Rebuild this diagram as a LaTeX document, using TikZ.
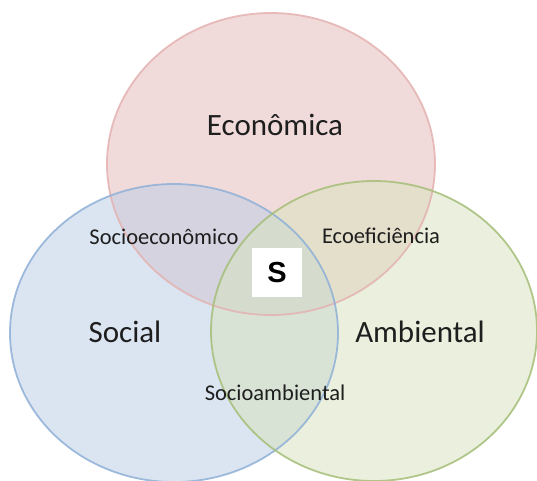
\documentclass[tikz,border=0pt]{standalone}
\usepackage{fontspec}
\setmainfont{Carlito}
\newfontfamily\boldsans{Liberation Sans}
\definecolor{pinkfill}{RGB}{229,185,183}
\definecolor{bluefill}{RGB}{185,205,229}
\definecolor{greenfill}{RGB}{215,227,189}
\definecolor{pinkline}{RGB}{228,178,177}
\definecolor{blueline}{RGB}{143,176,215}
\definecolor{greenline}{RGB}{165,190,120}
\definecolor{txt}{RGB}{30,30,30}
\begin{document}
\begin{tikzpicture}[x=1pt,y=-1pt,
  setfill/.style={fill opacity=0.5},
  bigtxt/.style={font=\fontsize{31}{31}\selectfont, text=txt, inner sep=0pt},
  smalltxt/.style={font=\fontsize{22.5}{22.5}\selectfont, text=txt, inner sep=0pt}]
\useasboundingbox (0,0) rectangle (537,480);
\fill[white] (0,0) rectangle (537,480);
% fills
\fill[pinkfill, setfill] (271,164) ellipse [x radius=164, y radius=151];
\fill[bluefill, setfill] (174,333) ellipse [x radius=164, y radius=149];
\fill[greenfill, setfill] (374,331) ellipse [x radius=163, y radius=150];
% borders
\draw[pinkline, line width=1.8pt, draw opacity=0.85] (271,164) ellipse [x radius=164, y radius=151];
\draw[blueline, line width=1.8pt, draw opacity=0.85] (174,333) ellipse [x radius=164, y radius=149];
\draw[greenline, line width=1.8pt, draw opacity=0.85] (374,331) ellipse [x radius=163, y radius=150];
% labels
\node[bigtxt] (eco) at (275,125) {Econômica};
\node[bigtxt] (soc) at (125,332) {Social};
\node[bigtxt] (amb) at (420,332) {Ambiental};
\node[smalltxt] (socec) at (164,237) {Socioeconômico};
\node[smalltxt] (ecoef) at (381,236) {Ecoeficiência};
\node[smalltxt] (socam) at (275,393) {Socioambiental};
\node[fill=white, minimum width=50pt, minimum height=49pt, inner sep=0pt,
  font=\boldsans\bfseries\fontsize{29}{29}\selectfont] (s) at (277,272.5) {S};
\end{tikzpicture}
\end{document}
